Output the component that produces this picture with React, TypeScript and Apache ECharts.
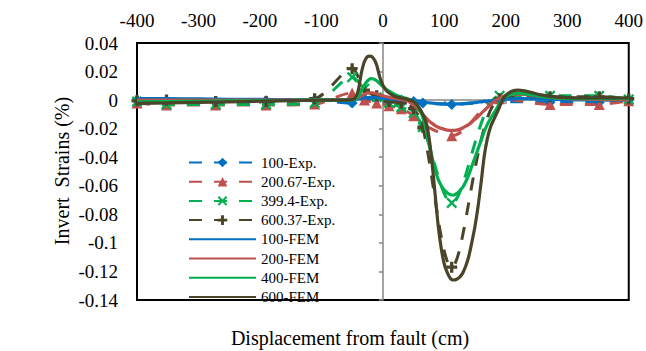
import { useEffect, useRef } from 'react';
import * as echarts from 'echarts';

// Experimental sensor positions (cm) and measured strains (%)
const X_EXP = [-400, -352, -272, -190, -111, -50, -30, -10, 10, 30, 50, 65, 112, 190, 272, 352, 400];
const EXP_100 = [0, -0.001, -0.001, -0.0005, 0, -0.002, 0.001, 0.001, -0.001, 0, -0.001, -0.002, -0.003, -0.001, -0.0015, -0.0015, 0];
const EXP_200 = [-0.002, -0.0035, -0.0035, -0.0035, -0.0028, 0.005, 0.0, -0.002, -0.004, -0.006, -0.011, -0.017, -0.025, 0.001, -0.003, -0.003, -0.0005];
const EXP_400 = [-0.001, -0.003, -0.003, -0.003, -0.002, 0.016, 0.008, 0.002, -0.002, -0.005, -0.009, -0.019, -0.072, 0.003, 0.003, 0.003, 0.0005];
const EXP_600 = [-0.0005, 0.0, -0.001, -0.001, 0.001, 0.022, 0.007, 0.003, -0.001, -0.002, -0.006, -0.019, -0.117, 0.001, 0.0023, 0.0023, 0.001];

// FEM positions (cm) and computed strains (%)
const X_FEM = [-400, -350, -300, -250, -200, -150, -100, -75, -60, -50, -45, -40, -35, -30, -25, -20, -15, -10, -5, 0, 5, 10, 20, 30, 40, 50, 55, 60, 65, 70, 75, 80, 85, 90, 95, 100, 105, 110, 115, 120, 125, 130, 135, 140, 145, 150, 155, 160, 165, 170, 175, 180, 185, 190, 195, 200, 210, 220, 230, 240, 260, 280, 300, 350, 400];
const FEM_100 = [0.001, 0.001, 0.0008, 0.0006, 0.0005, 0.0003, 0.0002, 0.0002, 0.0003, 0.0005, 0.0007, 0.001, 0.0013, 0.0016, 0.0018, 0.0019, 0.0018, 0.0016, 0.0014, 0.0012, 0.001, 0.0009, 0.0006, 0.0003, 0, -0.0004, -0.0007, -0.001, -0.0013, -0.0016, -0.0019, -0.0021, -0.0023, -0.0025, -0.0026, -0.0027, -0.0028, -0.0028, -0.0028, -0.0027, -0.0026, -0.0025, -0.0023, -0.0021, -0.0019, -0.0017, -0.0014, -0.0012, -0.0009, -0.0007, -0.0005, -0.0003, 0, 0.0002, 0.0004, 0.0006, 0.0009, 0.001, 0.001, 0.0009, 0.0007, 0.0005, 0.0003, 0.0001, 0];
const FEM_200 = [0, 0, 0, 0, 0, 0, 0, 0, 0.0002, 0.0006, 0.001, 0.0018, 0.003, 0.0042, 0.005, 0.0052, 0.005, 0.0045, 0.0038, 0.003, 0.0025, 0.002, 0.0012, 0.0005, -0.0005, -0.0035, -0.0055, -0.0078, -0.01, -0.0123, -0.0145, -0.0163, -0.0178, -0.019, -0.0198, -0.0205, -0.021, -0.0212, -0.0212, -0.021, -0.0205, -0.0195, -0.0183, -0.017, -0.0153, -0.0135, -0.0115, -0.0093, -0.0072, -0.0052, -0.0033, -0.0015, 0.0003, 0.0015, 0.0025, 0.0032, 0.004, 0.0042, 0.004, 0.0035, 0.0025, 0.0015, 0.001, 0.0005, 0];
const FEM_400 = [-0.0012, -0.001, -0.0008, -0.0006, -0.0004, -0.0002, 0, 0, 0, 0.0002, 0.0008, 0.0025, 0.0065, 0.0105, 0.0135, 0.015, 0.0148, 0.0135, 0.0115, 0.0095, 0.0078, 0.0063, 0.0038, 0.0022, 0.001, -0.001, -0.0035, -0.007, -0.012, -0.02, -0.03, -0.04, -0.049, -0.0555, -0.06, -0.063, -0.065, -0.0663, -0.0665, -0.0655, -0.0635, -0.061, -0.057, -0.052, -0.046, -0.04, -0.034, -0.028, -0.022, -0.017, -0.013, -0.0095, -0.006, -0.002, 0.001, 0.0027, 0.0042, 0.0048, 0.0045, 0.0038, 0.0025, 0.0016, 0.0012, 0.001, 0.001];
const FEM_600 = [-0.0023, -0.002, -0.0016, -0.0012, -0.0008, -0.0004, -0.0001, 0, 0, 0.0003, 0.0015, 0.007, 0.019, 0.027, 0.0305, 0.0308, 0.029, 0.0245, 0.016, 0.0105, 0.007, 0.005, 0.0025, 0.0015, 0.0005, -0.001, -0.003, -0.006, -0.01, -0.015, -0.026, -0.044, -0.066, -0.088, -0.104, -0.115, -0.121, -0.125, -0.126, -0.1255, -0.124, -0.121, -0.116, -0.109, -0.099, -0.088, -0.074, -0.057, -0.039, -0.027, -0.019, -0.014, -0.0095, -0.0045, 0.0005, 0.0035, 0.0062, 0.007, 0.0065, 0.0055, 0.0035, 0.0022, 0.0018, 0.0015, 0.0015];

const EXP_NAMES = ['100-Exp.', '200.67-Exp.', '399.4-Exp.', '600.37-Exp.'];
const FEM_NAMES = ['100-FEM', '200-FEM', '400-FEM', '600-FEM'];
const X_TITLE = 'Displacement from fault (cm)';
const Y_TITLE = 'Invert  Strains (%)';

const COLORS = ['#0070C0', '#C0504D', '#00B050', '#4A4428'];
const PLUS = 'path://M3.5,0H6.5V3.5H10V6.5H6.5V10H3.5V6.5H0V3.5H3.5Z';
const CROSS = 'path://M1.5,0L5,3.5L8.5,0L10,1.5L6.5,5L10,8.5L8.5,10L5,6.5L1.5,10L0,8.5L3.5,5L0,1.5Z';
const SYMBOLS = ['diamond', 'triangle', CROSS, PLUS];

export default function App() {
  const ref = useRef<HTMLDivElement>(null);
  useEffect(() => {
    const chart = echarts.init(ref.current!, null, { renderer: 'svg' });
    const font = "'Liberation Serif', 'Times New Roman', serif";
    const pairs = (xs: number[], ys: number[]) => xs.map((x, i) => [x, ys[i]]);
    const expData = [EXP_100, EXP_200, EXP_400, EXP_600];
    const femData = [FEM_100, FEM_200, FEM_400, FEM_600];
    const gray = '#868686';

    const series: any[] = [];
    EXP_NAMES.forEach((name, i) => {
      series.push({
        name,
        type: 'line',
        xAxisIndex: 0,
        yAxisIndex: 0,
        data: pairs(X_EXP, expData[i]),
        symbol: SYMBOLS[i],
        symbolSize: 11,
        smooth: 0.3,
        lineStyle: { color: COLORS[i], width: 3, type: [13, 12] },
        itemStyle: { color: COLORS[i] },
        z: 2,
      });
    });
    FEM_NAMES.forEach((name, i) => {
      series.push({
        name,
        type: 'line',
        xAxisIndex: 0,
        yAxisIndex: 0,
        data: pairs(X_FEM, femData[i]),
        symbol: 'none',
        smooth: 0.3,
        lineStyle: { color: COLORS[i], width: 3.2 },
        itemStyle: { color: COLORS[i] },
        z: 3,
      });
    });

    const legendData = [
      ...EXP_NAMES.map((name) => ({ name })),
      ...FEM_NAMES.map((name) => ({
        name,
        itemStyle: { color: 'transparent', borderColor: 'transparent', borderWidth: 0, opacity: 0 },
      })),
    ];

    chart.setOption({
      animation: false,
      backgroundColor: '#fff',
      textStyle: { fontFamily: font },
      grid: {
        left: 137, top: 43, width: 493, height: 257,
        show: true, borderColor: '#000', borderWidth: 2, backgroundColor: 'transparent',
      },
      xAxis: [
        {
          type: 'value', position: 'top', min: -400, max: 400, interval: 100,
          axisLine: { show: false, onZero: false },
          axisTick: { show: false },
          splitLine: { show: false },
          axisLabel: { fontSize: 19, color: '#000', fontFamily: font, margin: 13 },
        },
        {
          type: 'value', position: 'bottom', min: -400, max: 400, interval: 100,
          axisLine: { show: true, onZero: true, onZeroAxisIndex: 0, lineStyle: { color: gray, width: 1.5 } },
          axisTick: { show: true, length: 4, lineStyle: { color: gray, width: 1.5 } },
          axisLabel: { show: false },
          splitLine: { show: false },
        },
      ],
      yAxis: [
        {
          type: 'value', position: 'left', min: -0.14, max: 0.04, interval: 0.02,
          axisLine: { show: false, onZero: false },
          axisTick: { show: false },
          splitLine: { show: false },
          axisLabel: {
            fontSize: 19, color: '#000', fontFamily: font, margin: 19,
            formatter: (v: number) => String(parseFloat(v.toFixed(2))),
          },
        },
        {
          type: 'value', position: 'left', min: -0.14, max: 0.04, interval: 0.02,
          axisLine: { show: true, onZero: true, onZeroAxisIndex: 0, lineStyle: { color: gray, width: 1.5 } },
          axisTick: { show: true, length: 4, lineStyle: { color: gray, width: 1.5 } },
          axisLabel: { show: false },
          splitLine: { show: false },
        },
      ],
      legend: {
        orient: 'vertical', left: 188, top: 155, padding: 0,
        itemWidth: 67, itemHeight: 12, itemGap: 4.2,
        textStyle: { fontSize: 15, fontFamily: font, color: '#000' },
        data: legendData,
      },
      graphic: [
        {
          type: 'text', x: 62, y: 171, rotation: Math.PI / 2,
          style: { text: Y_TITLE, fontSize: 20, fontFamily: font, fill: '#000', textAlign: 'center', textVerticalAlign: 'middle' },
        },
        {
          type: 'text', x: 350, y: 338,
          style: { text: X_TITLE, fontSize: 20, fontFamily: font, fill: '#000', textAlign: 'center', textVerticalAlign: 'middle' },
        },
      ],
      series,
    });
    return () => chart.dispose();
  }, []);
  return <div ref={ref} style={{ position: 'fixed', left: 0, top: 0, width: 646, height: 351, background: '#fff' }} />;
}
